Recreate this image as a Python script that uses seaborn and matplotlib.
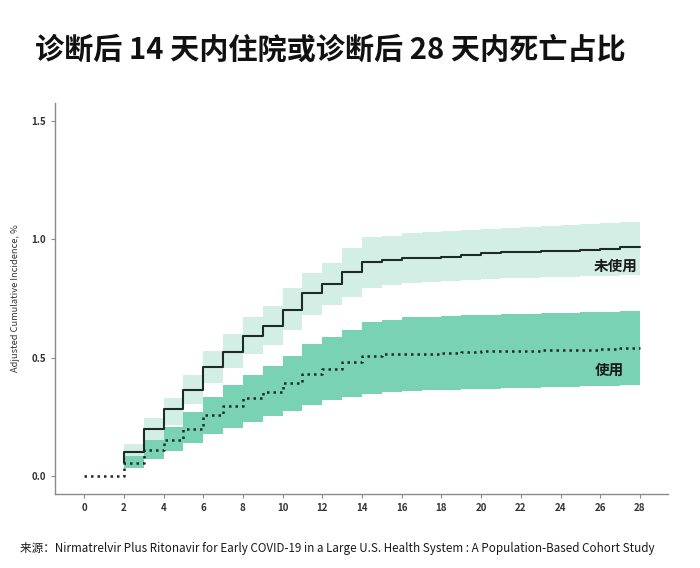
import numpy as np
import pandas as pd
import matplotlib
matplotlib.use("Agg")
import matplotlib.pyplot as plt
import seaborn as sns

# --- data ---
days_untreated = [2, 3, 4, 5, 6, 7, 8, 9, 10, 11, 12, 13, 14, 15, 16, 17, 18, 19, 20,
                  21, 22, 23, 24, 25, 26, 27, 28]
untreated = [0.103, 0.201, 0.282, 0.366, 0.462, 0.525, 0.591, 0.634, 0.701, 0.772,
             0.810, 0.862, 0.905, 0.911, 0.920, 0.922, 0.927, 0.934, 0.941, 0.946,
             0.947, 0.951, 0.952, 0.953, 0.958, 0.965, 0.965]

days_treated = [0, 1, 2, 3, 4, 5, 6, 7, 8, 9, 10, 11, 12, 13, 14, 15, 16, 17, 18, 19,
                20, 21, 22, 23, 24, 25, 26, 27, 28]
treated = [0.0, 0.0, 0.056, 0.110, 0.155, 0.201, 0.258, 0.296, 0.331, 0.354, 0.392,
           0.431, 0.453, 0.481, 0.508, 0.514, 0.515, 0.518, 0.522, 0.523, 0.527,
           0.529, 0.530, 0.532, 0.533, 0.534, 0.539, 0.540, 0.540]

band_days = [2, 3, 4, 5, 6, 7, 8, 9, 10, 11, 12, 13, 14, 15, 16, 17, 18, 19, 20,
             21, 22, 23, 24, 25, 26, 27, 28]
untreated_hi = [0.135, 0.244, 0.332, 0.427, 0.529, 0.600, 0.673, 0.718, 0.793, 0.856,
                0.901, 0.962, 1.010, 1.012, 1.025, 1.030, 1.035, 1.040, 1.044, 1.048,
                1.052, 1.056, 1.060, 1.064, 1.068, 1.073, 1.073]
untreated_lo = [0.075, 0.150, 0.215, 0.307, 0.392, 0.458, 0.518, 0.553, 0.617, 0.680,
                0.722, 0.757, 0.795, 0.807, 0.817, 0.821, 0.825, 0.829, 0.832, 0.835,
                0.838, 0.840, 0.842, 0.844, 0.846, 0.849, 0.849]
treated_hi = [0.084, 0.152, 0.208, 0.272, 0.335, 0.384, 0.427, 0.465, 0.507, 0.558,
              0.586, 0.617, 0.652, 0.659, 0.670, 0.673, 0.676, 0.679, 0.682, 0.684,
              0.686, 0.688, 0.690, 0.692, 0.695, 0.697, 0.697]
treated_lo = [0.035, 0.075, 0.107, 0.141, 0.180, 0.206, 0.229, 0.253, 0.276, 0.300,
              0.321, 0.335, 0.349, 0.355, 0.360, 0.363, 0.366, 0.368, 0.370, 0.372,
              0.374, 0.376, 0.378, 0.380, 0.382, 0.384, 0.384]

x_ticks = list(range(0, 29, 2))
y_ticks = [0.0, 0.5, 1.0, 1.5]

TITLE = "诊断后 14 天内住院或诊断后 28 天内死亡占比"
SOURCE = "来源：Nirmatrelvir Plus Ritonavir for Early COVID-19 in a Large U.S. Health System : A Population-Based Cohort Study"

LIGHT = "#d3efe5"
DARK = "#79d2b3"
LINE = "#1e2a28"
AXIS = "#8a8a8a"

sns.set_style("white")
plt.rcParams["font.family"] = ["Noto Sans CJK SC", "DejaVu Sans"]

fig = plt.figure(figsize=(7.0, 5.68), dpi=100)
fig.patch.set_facecolor("white")
ax = fig.add_axes([0.079, 0.130, 0.875, 0.689])

bands = pd.DataFrame({"day": band_days, "u_hi": untreated_hi, "u_lo": untreated_lo,
                      "t_hi": treated_hi, "t_lo": treated_lo})
ax.fill_between(bands["day"], bands["u_lo"], bands["u_hi"], step="post",
                color=LIGHT, linewidth=0, zorder=1)
ax.fill_between(bands["day"], bands["t_lo"], bands["t_hi"], step="post",
                color=DARK, linewidth=0, zorder=2)

un = pd.DataFrame({"day": days_untreated, "value": untreated})
tr = pd.DataFrame({"day": days_treated, "value": treated})
sns.lineplot(data=un, x="day", y="value", ax=ax, color=LINE, linewidth=1.5,
             drawstyle="steps-post", zorder=3)
sns.lineplot(data=tr, x="day", y="value", ax=ax, color=LINE, linewidth=1.8,
             linestyle=(0, (1, 1.6)), drawstyle="steps-post", zorder=4)
# short vertical stub where the untreated curve leaves the treated one at day 2
ax.vlines(days_untreated[0], treated[2], untreated[0], color=LINE, linewidth=1.5, zorder=3)

ax.text(27.9, 0.89, "未使用", ha="right", va="center", fontsize=10.5,
        fontweight="bold", color="#1a1a1a", zorder=5)
ax.text(27.2, 0.45, "使用", ha="right", va="center", fontsize=10.5,
        fontweight="bold", color="#1a1a1a", zorder=5)

ax.set_xlim(-1.45, 29.4)
ax.set_ylim(-0.075, 1.575)
ax.set_xticks(x_ticks)
ax.set_yticks(y_ticks)
ax.set_yticklabels([f"{v:.1f}" for v in y_ticks])
ax.set_xlabel("")
ax.set_ylabel("Adjusted Cumulative Incidence, %", fontsize=6.7, color="#333333", labelpad=8)
ax.tick_params(axis="both", labelsize=7, colors=AXIS, labelcolor="#333333",
               length=3, width=0.8, direction="out", bottom=True, left=True)
for lbl in ax.get_xticklabels() + ax.get_yticklabels():
    lbl.set_fontweight("bold")
sns.despine(ax=ax)
for side in ("left", "bottom"):
    ax.spines[side].set_color(AXIS)
    ax.spines[side].set_linewidth(1.0)

fig.text(0.05, 0.912, TITLE, fontsize=21, fontweight="bold", color="#111111",
         ha="left", va="center")
fig.text(0.028, 0.034, SOURCE, fontsize=8.4, fontweight="medium", color="#1a1a1a",
         ha="left", va="center")

fig.savefig("out.png", dpi=100, facecolor="white")
